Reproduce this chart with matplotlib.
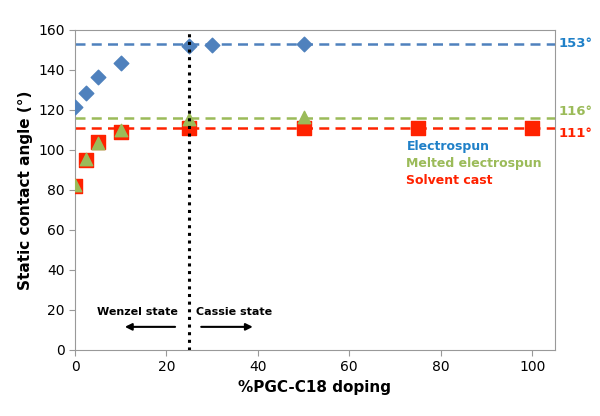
import matplotlib

matplotlib.use("Agg")

import matplotlib.pyplot as plt

# data
x_es = [0, 2.5, 5, 10, 25, 30, 50]
y_es = [121.7, 128.3, 136.7, 143.3, 152, 152.5, 153.2]

x_mes = [0, 2.5, 5, 10, 25, 50]
y_mes = [82.5, 95.5, 103.5, 110, 115.5, 116.5]

x_sc = [0, 2.5, 5, 10, 25, 50, 75, 100]
y_sc = [82, 95, 104, 109, 111, 111, 111, 111]

plateaus = [153, 116, 111]
plateau_labels = ["153°", "116°", "111°"]

series_names = ["Electrospun", "Melted electrospun", "Solvent cast"]

BLUE = "#4F81BD"
BLUE_TXT = "#1F80C8"
GREEN = "#9BBB59"
RED = "#FF2200"

fig = plt.figure(figsize=(6, 4.16), dpi=100)
ax = fig.add_axes([0.125, 0.159, 0.8, 0.769])

ax.scatter(x_sc, y_sc, marker="s", s=110, color=RED, zorder=3)
ax.scatter(x_mes, y_mes, marker="^", s=80, color=GREEN, zorder=4)
ax.scatter(x_es, y_es, marker="D", s=55, color=BLUE, zorder=3)

line_colors = [BLUE, GREEN, RED]
txt_colors = [BLUE_TXT, GREEN, RED]
label_nudge = [0, 3, -3]  # keep 116/111 labels apart
for val, lab, lc, tc, dy in zip(plateaus, plateau_labels, line_colors, txt_colors, label_nudge):
    ax.axhline(val, color=lc, ls=(0, (4, 2.5)), lw=1.8, zorder=2)
    ax.text(105.8, val + dy, lab, color=tc, fontsize=9.5, fontweight="bold",
            va="center", ha="left", clip_on=False)

ax.axvline(25, color="black", ls=(0, (1, 1.5)), lw=2.2, zorder=5)

ax.text(22.5, 19, "Wenzel state", fontsize=8, fontweight="bold", ha="right", va="center")
ax.text(26.5, 19, "Cassie state", fontsize=8, fontweight="bold", ha="left", va="center")
ax.annotate("", xy=(10.3, 11.5), xytext=(22.5, 11.5),
            arrowprops=dict(arrowstyle="-|>", color="black", lw=1.5, mutation_scale=10))
ax.annotate("", xy=(39.5, 11.5), xytext=(27, 11.5),
            arrowprops=dict(arrowstyle="-|>", color="black", lw=1.5, mutation_scale=10))

for i, (name, c) in enumerate(zip(series_names, txt_colors)):
    ax.text(72.5, 101.5 - i * 8.5, name, color=c, fontsize=9, fontweight="bold",
            ha="left", va="center")

ax.set_xlim(0, 105)
ax.set_ylim(0, 160)
ax.set_xticks([0, 20, 40, 60, 80, 100])
ax.set_yticks(range(0, 161, 20))
ax.tick_params(labelsize=10, length=4, color="#999999")
for sp in ax.spines.values():
    sp.set_color("#999999")

ax.set_xlabel("%PGC-C18 doping", fontsize=11, fontweight="bold")
ax.set_ylabel("Static contact angle (°)", fontsize=11, fontweight="bold")

fig.savefig("out.png", dpi=100)
